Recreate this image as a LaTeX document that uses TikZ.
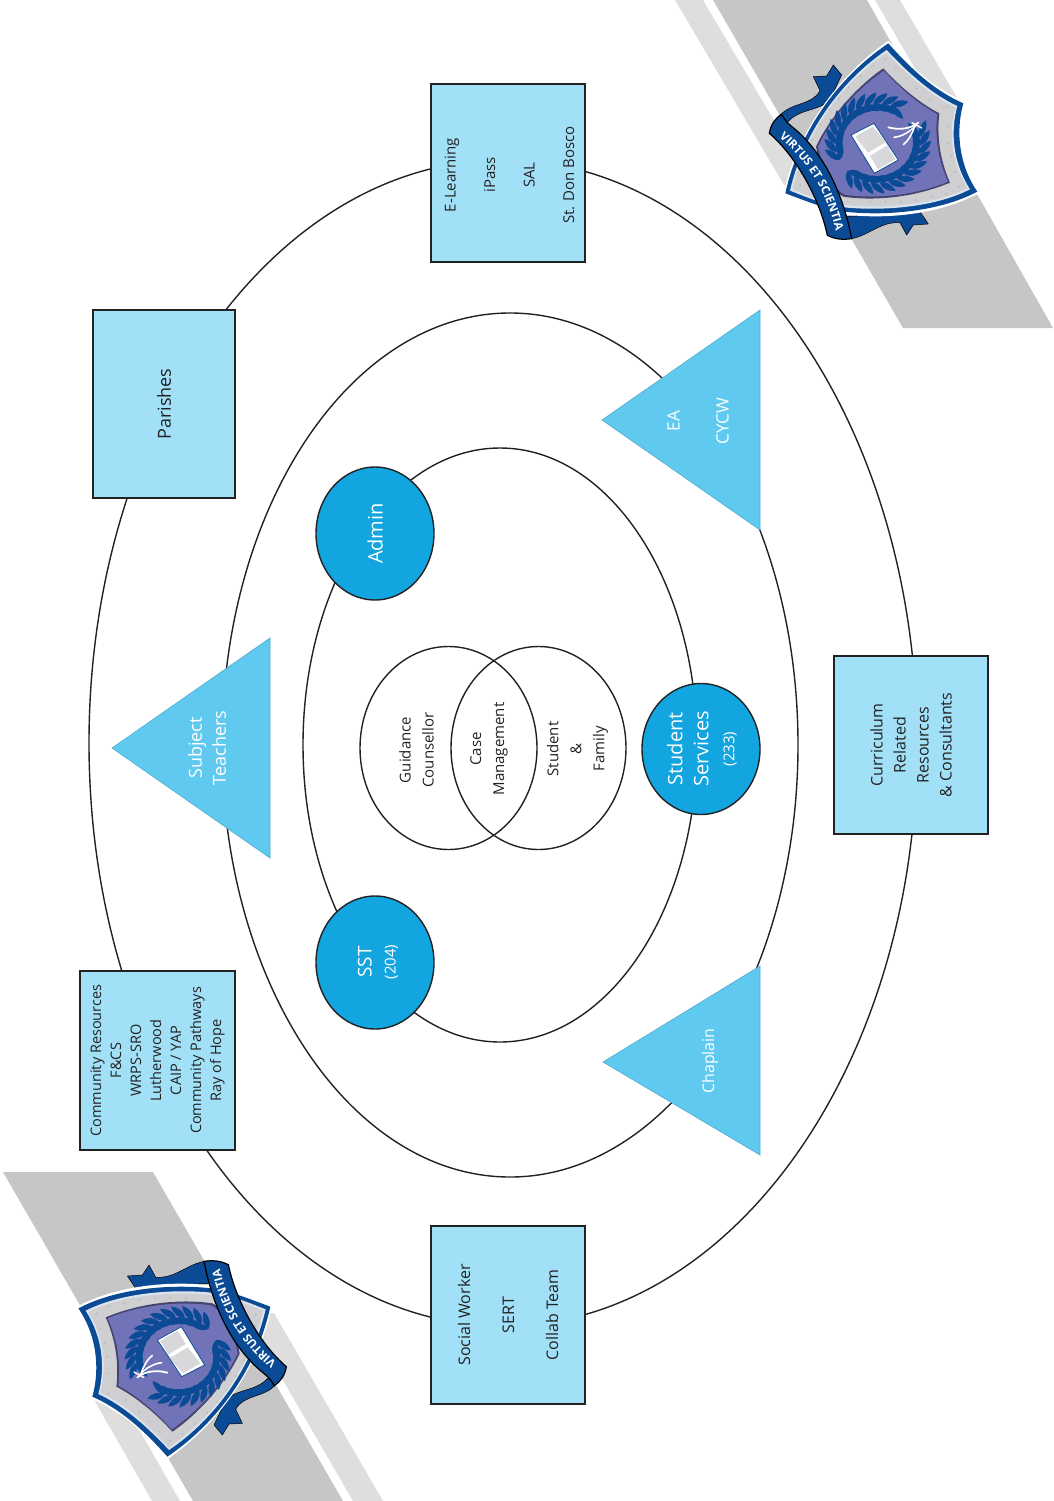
\documentclass[tikz,border=0pt]{standalone}
\usepackage{fontspec}
\setmainfont{Open Sans}
\usetikzlibrary{shapes.geometric,decorations.text}
\definecolor{boxfill}{HTML}{A2E0F7}
\definecolor{trifill}{HTML}{5FC9F0}
\definecolor{circfill}{HTML}{12A5E0}
\definecolor{band}{HTML}{C6C6C6}
\definecolor{lband}{HTML}{DEDEDE}
\definecolor{sblue}{HTML}{0B4A94}
\definecolor{spurple}{HTML}{7173B8}
\definecolor{sgray}{HTML}{CFCFD2}
\definecolor{ink}{HTML}{222222}
\tikzset{
 ring/.style={draw=ink,line width=1.4pt},
 boxnode/.style={draw=ink,line width=1.4pt,fill=boxfill,rectangle,inner sep=0pt,align=center,text=ink},
 trishape/.style={fill=trifill,draw=trifill!85!black,line width=.6pt},
 trilabel/.style={rotate=90,align=center,text=white,font=\fontsize{18}{24}\selectfont},
 disc/.style={ellipse,draw=ink,line width=1.4pt,fill=circfill,inner sep=0pt,text=white,align=center},
 vlabel/.style={rotate=90,align=center,text=ink,font=\fontsize{15}{23}\selectfont},
}
% one leaf: stem point x, stem point y, direction
\newcommand{\leafat}[3]{\fill[sblue,shift={(#1,#2)},rotate=#3] (0,0) .. controls (14,13) and (34,13) .. (54,0) .. controls (34,-13) and (14,-13) .. (0,0) -- cycle;}
\newcommand{\shieldart}{%
 % upper tail and back band
 \fill[sblue,draw=black,line width=.5pt] (328,348) .. controls (365,305) and (425,318) .. (450,272) -- (430,230) -- (470,228) -- (490,195) -- (515,225) -- (480,300) .. controls (445,335) and (385,325) .. (350,370) -- cycle;
 % lower tail and back band
 \fill[sblue,draw=black,line width=.5pt] (530,650) -- (750,635) -- (775,672) -- (730,675) -- (710,705) -- (690,668) .. controls (630,665) and (600,705) .. (545,716) -- cycle;
 % shield layers
 \fill[white] (655,122) .. controls (730,210) and (800,270) .. (887,305) .. controls (860,400) and (880,500) .. (930,578) .. controls (800,650) and (620,660) .. (500,640) .. controls (450,625) and (400,610) .. (340,582) .. controls (380,400) and (500,230) .. (655,122) -- cycle;
 \fill[sblue] (655,130) .. controls (730,215) and (800,275) .. (880,310) .. controls (855,400) and (870,500) .. (922,575) .. controls (800,640) and (620,650) .. (500,632) .. controls (450,620) and (400,600) .. (346,580) .. controls (385,400) and (500,235) .. (655,130) -- cycle;
 \fill[white!85!sblue] (650,150) .. controls (720,225) and (790,285) .. (862,318) .. controls (840,400) and (850,490) .. (900,568) .. controls (790,625) and (620,635) .. (505,620) .. controls (455,610) and (410,592) .. (360,572) .. controls (400,400) and (510,245) .. (650,150) -- cycle;
 \fill[sgray] (650,158) .. controls (720,232) and (785,290) .. (856,322) .. controls (835,400) and (845,490) .. (892,564) .. controls (790,618) and (620,628) .. (505,613) .. controls (455,604) and (412,586) .. (368,568) .. controls (405,400) and (515,250) .. (650,158) -- cycle;
 % rivets
 \foreach \p in {(647,178),(678,205),(708,235),(740,265),(780,300),(830,320),(836,380),(836,430),(844,470),(856,515),(868,560),(828,582),(785,590),(738,600),(692,605),(646,606),(600,606),(610,198),(572,228),(535,262),(505,295),(478,330),(450,372),(425,420),(412,470),(392,522),(390,555)}
  {\fill[white!72!black] \p circle (3.2);}
 % purple field
 \fill[spurple!60!black] (640,205) .. controls (690,260) and (750,310) .. (808,340) .. controls (800,410) and (810,480) .. (840,548) .. controls (740,590) and (620,605) .. (520,590) .. controls (480,570) and (450,500) .. (438,440) .. controls (480,350) and (560,260) .. (640,205) -- cycle;
 \fill[spurple] (642,212) .. controls (690,265) and (745,312) .. (802,343) .. controls (794,410) and (804,478) .. (834,545) .. controls (740,585) and (620,598) .. (524,584) .. controls (485,565) and (456,500) .. (444,440) .. controls (486,352) and (562,266) .. (642,212) -- cycle;
 % wreath: upper branch
 \foreach \a in {205,193,...,70}
  {\pgfmathsetmacro\px{625+128*cos(\a)}\pgfmathsetmacro\py{430-118*sin(\a)}
   \pgfmathsetmacro\ra{\a-90+30}\pgfmathsetmacro\rb{\a-90-30}
   \leafat{\px}{\py}{\ra}\leafat{\px}{\py}{\rb}}
 % wreath: lower branch
 \foreach \a in {225,237,...,375}
  {\pgfmathsetmacro\px{622+128*cos(\a)}\pgfmathsetmacro\py{430-118*sin(\a)}
   \pgfmathsetmacro\ra{\a+90+30}\pgfmathsetmacro\rb{\a+90-30}
   \leafat{\px}{\py}{\ra}\leafat{\px}{\py}{\rb}}
 % book
 \fill[white,draw=sblue,line width=.8pt] (543,405) -- (612,370) -- (685,480) -- (613,520) -- cycle;
 \fill[sgray!80!white] (556,410) -- (608,380) -- (648,426) -- (594,458) -- cycle;
 \fill[sgray!80!white] (600,468) -- (652,436) -- (676,478) -- (624,508) -- cycle;
 % trident
 \draw[white,line width=1.4pt,line cap=round] (726,368) -- (755,384);
 \draw[white,line width=1.8pt,line cap=round] (655,382) .. controls (690,392) and (725,385) .. (745,368);
 \draw[white,line width=1.6pt,line cap=round] (672,412) .. controls (695,410) and (722,395) .. (738,375);
 \draw[white,line width=1.6pt,line cap=round] (700,434) .. controls (712,425) and (726,405) .. (734,378);
 % front ribbon
 \fill[sblue,draw=black,line width=1.2pt] (298,400) .. controls (302,375) and (315,355) .. (335,343) .. controls (345,365) and (360,375) .. (372,385) .. controls (450,450) and (515,560) .. (545,716) .. controls (520,720) and (495,718) .. (472,706) .. controls (450,600) and (380,470) .. (298,400) -- cycle;
 \path[decorate,decoration={text along path,text align=center,text color=white,
   text={|\bfseries\fontsize{11.5}{12}\selectfont|VIRTUS ET SCIENTIA}}]
   (318,405) .. controls (400,470) and (470,565) .. (500,705);
}
\begin{document}
\begin{tikzpicture}[x=1pt,y=-1pt]
\useasboundingbox (0,0) rectangle (1053,1501);
% bands
\fill[band] (713,0)--(867,0)--(1053,328)--(903,328)--cycle;
\fill[lband] (675,0)--(703,0)--(815,190)--(787,190)--cycle;
\fill[lband] (875,0)--(900,0)--(960,103)--(935,103)--cycle;
\fill[band] (3,1172)--(153,1172)--(343,1501)--(193,1501)--cycle;
\fill[lband] (93,1398)--(121,1398)--(180,1501)--(152,1501)--cycle;
\fill[lband] (244,1313)--(274,1313)--(383,1501)--(353,1501)--cycle;
% rings
\draw[ring] (503,743) ellipse (414 and 583);
\draw[ring] (510,745) ellipse (288 and 432);
\draw[ring] (500,745) ellipse (197 and 297);
\draw[ring] (448.5,748) ellipse (88.5 and 101.5);
\draw[ring] (538.5,748) ellipse (87.5 and 101.5);
% venn labels
\node[vlabel] (guid) at (416.5,750) {Guidance\\Counsellor};
\node[vlabel] (case) at (489,749) {Case\\Management};
\node[vlabel] (stud) at (577.5,749) {Student\\\&\\Family};
% boxes
\node[boxnode,minimum width=142pt,minimum height=188pt] (parish) at (164,404) {\rotatebox{90}{\fontsize{18}{18}\selectfont Parishes}};
\node[boxnode,minimum width=154pt,minimum height=178pt] (elearn) at (508,173) {};
\node[rotate=90,align=center,text=ink,font=\fontsize{15}{39.5}\selectfont] (elearnt) at (509.5,175) {E-Learning\\iPass\\SAL\\St. Don Bosco};
\node[boxnode,minimum width=154pt,minimum height=178pt] (curr) at (911,745) {};
\node[rotate=90,align=center,text=ink,font=\fontsize{16}{23}\selectfont] (currt) at (curr.center) {Curriculum\\Related\\Resources\\\& Consultants};
\node[boxnode,minimum width=154pt,minimum height=178pt] (social) at (508,1315) {};
\node[rotate=90,align=center,text=ink,font=\fontsize{16}{44}\selectfont] (socialt) at (social.center) {Social Worker\\SERT\\Collab Team};
\node[boxnode,minimum width=155pt,minimum height=179pt] (comm) at (157.5,1060.5) {};
\node[rotate=90,align=center,text=ink,font=\fontsize{14.5}{20}\selectfont] (commt) at (comm.center) {Community Resources\\F\&CS\\WRPS-SRO\\Lutherwood\\CAIP / YAP\\Community Pathways\\Ray of Hope};
% triangles
\draw[trishape] (112,748)--(270,638)--(270,858)--cycle;
\draw[trishape] (602,420)--(760,310)--(760,530)--cycle;
\draw[trishape] (603,1062)--(760,966)--(760,1155)--cycle;
\node[trilabel] (subj) at (207,748) {Subject\\Teachers};
\node[trilabel,font=\fontsize{17}{49}\selectfont] (ea) at (698,421) {EA\\CYCW};
\node[trilabel,font=\fontsize{16}{18}\selectfont] (chap) at (710,1061) {Chaplain};
% discs
\node[disc,minimum width=118pt,minimum height=133pt] (admin) at (375,533.5) {\rotatebox{90}{\fontsize{20}{20}\selectfont Admin}};
\node[disc,minimum width=118pt,minimum height=133pt] (sst) at (375,962.5) {};
\node[rotate=90,align=center,text=white,font=\fontsize{19}{24}\selectfont] (sstt) at (378,962) {SST\\{\fontsize{15}{16}\selectfont (204)}};
\node[disc,minimum width=118pt,minimum height=131pt] (serv) at (701,749) {};
\node[rotate=90,align=center,text=white,font=\fontsize{20}{26}\selectfont] (servt) at (702,749) {Student\\Services\\{\fontsize{15}{16}\selectfont (233)}};
% shields
\begin{scope}[shift={(670,0)},x=0.3333pt,y=-0.3333pt]
 \shieldart
\end{scope}
\begin{scope}[shift={(385.67,1500)},rotate=180,x=0.3333pt,y=-0.3333pt]
 \shieldart
\end{scope}
\end{tikzpicture}
\end{document}
